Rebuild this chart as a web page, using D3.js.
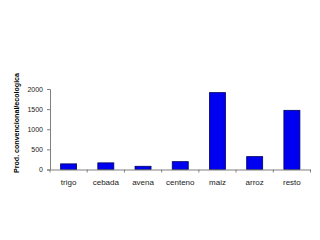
<!DOCTYPE html>
<html><head><meta charset="utf-8">
<script src="https://cdn.jsdelivr.net/npm/d3@7"></script>
<style>
html,body{margin:0;padding:0;background:#fff;}
svg{display:block;}
text{font-family:"Liberation Sans",Arial,sans-serif;}
</style></head>
<body>
<script>
const categories = ["trigo","cebada","avena","centeno","maiz","arroz","resto"];
const values = [140, 165, 80, 195, 1910, 320, 1470];
const yTicks = [0, 500, 1000, 1500, 2000];
const yLabel = "Prod. convencional/ecologica";

const W = 320, H = 240;
const svg = d3.select("body").append("svg").attr("width", W).attr("height", H);

const x = d3.scaleBand().domain(categories).range([50, 310.5]).padding(0);
const y = d3.scaleLinear().domain([0, 2000]).range([169.5, 89]);

// bars
const bw = x.bandwidth() * 0.43;
svg.append("g").selectAll("rect").data(values).join("rect")
  .attr("x", (d, i) => x(categories[i]) + x.bandwidth() / 2 - bw / 2)
  .attr("y", d => y(d))
  .attr("width", bw)
  .attr("height", d => y(0) - y(d))
  .attr("fill", "#0000f0")
  .attr("stroke", "#000060")
  .attr("stroke-width", 0.8);

// y axis
const yAxis = svg.append("g").attr("transform", "translate(50,0)")
  .call(d3.axisLeft(y).tickValues(yTicks).tickSize(3).tickPadding(4).tickFormat(d3.format("d")));
yAxis.select(".domain").attr("stroke", "#808080");
yAxis.selectAll(".tick line").attr("stroke", "#808080");
yAxis.selectAll("text").attr("font-size", "7px").attr("fill", "#222");

// x axis
const xAxis = svg.append("g").attr("transform", `translate(0,${y(0)})`)
  .call(d3.axisBottom(x).tickSize(0).tickPadding(9.5));
xAxis.select(".domain").attr("stroke", "#808080");
xAxis.selectAll("text").attr("font-size", "8px").attr("fill", "#222");
// category boundary ticks
const bounds = d3.range(categories.length + 1).map(i => 50 + i * x.step());
xAxis.append("g").selectAll("line").data(bounds).join("line")
  .attr("x1", d => d).attr("x2", d => d)
  .attr("y1", 0).attr("y2", 3)
  .attr("stroke", "#808080");

// y label
svg.append("text")
  .attr("transform", "translate(18.5,123) rotate(-90)")
  .attr("text-anchor", "middle")
  .attr("font-size", "7px")
  .attr("font-weight", "bold")
  .attr("fill", "#000")
  .attr("textLength", 100)
  .attr("lengthAdjust", "spacingAndGlyphs")
  .text(yLabel);
</script>
</body></html>
